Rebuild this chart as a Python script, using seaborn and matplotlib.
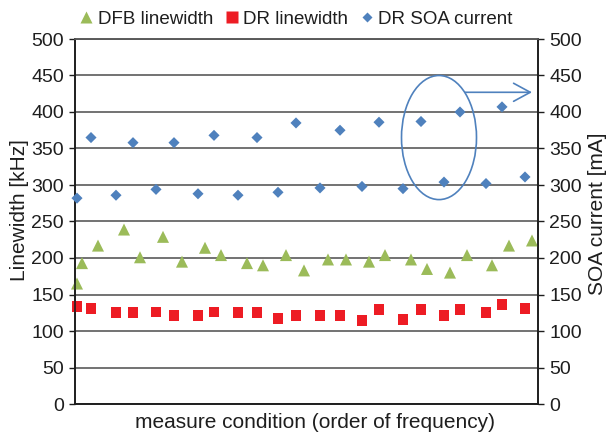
import matplotlib
matplotlib.use("Agg")
import matplotlib.pyplot as plt
import pandas as pd
import seaborn as sns
from matplotlib.patches import Ellipse
from matplotlib.lines import Line2D

# Position of each measurement along the frequency-ordered axis (arbitrary units)
dfb_pos = [2, 7, 23, 49, 65, 88, 107, 130, 146, 172, 188, 211, 229, 253,
           271, 294, 310, 336, 352, 375, 392, 417, 434, 457]
dfb_linewidth = [165, 193, 217, 239, 201, 229, 195, 214, 204, 193, 190, 204,
                 183, 198, 198, 195, 204, 198, 185, 180, 204, 190, 217, 224]

dr_pos = [2, 16, 41, 58, 81, 99, 123, 139, 163, 182, 203, 221, 245, 265,
          287, 304, 328, 346, 369, 385, 411, 427, 450]
dr_linewidth = [134, 131, 125, 125, 126, 121, 121, 126, 125, 125, 117, 121,
                121, 121, 114, 129, 116, 129, 121, 129, 125, 136, 131]
dr_soa_current = [282, 365, 286, 358, 294, 358, 288, 368, 286, 365, 290, 385,
                  296, 375, 298, 386, 295, 387, 304, 400, 302, 407, 311]

series_labels = ["DFB linewidth", "DR linewidth", "DR SOA current"]
x_label = "measure condition (order of frequency)"
left_label = "Linewidth [kHz]"
right_label = "SOA current [mA]"
y_ticks = list(range(0, 501, 50))

GREEN = "#9BBB59"
RED = "#ED1C24"
BLUE = "#4F81BD"
GRID = "#5a5a5a"
INK = "#1e1e1e"

sns.set_style("white")
plt.rcParams["font.family"] = ["Liberation Sans", "DejaVu Sans"]

dfb = pd.DataFrame({"pos": dfb_pos, "value": dfb_linewidth})
dr = pd.DataFrame({"pos": dr_pos, "linewidth": dr_linewidth,
                   "current": dr_soa_current})

fig = plt.figure(figsize=(6.07, 4.36), dpi=100)
ax = fig.add_axes([75 / 607, 1 - 404 / 436, 463 / 607, 365 / 436])
ax2 = ax.twinx()

sns.scatterplot(data=dfb, x="pos", y="value", marker="^", s=75, color=GREEN,
                edgecolor="none", ax=ax, clip_on=False, zorder=3, legend=False)
sns.scatterplot(data=dr, x="pos", y="linewidth", marker="s", s=62, color=RED,
                edgecolor="none", ax=ax, clip_on=False, zorder=3, legend=False)
sns.scatterplot(data=dr, x="pos", y="current", marker="D", s=32, color=BLUE,
                edgecolor="none", ax=ax2, clip_on=False, zorder=3, legend=False)

for a in (ax, ax2):
    a.set_xlim(0, 463)
    a.set_ylim(0, 500)
    a.set_yticks(y_ticks)
    a.set_xticks([])
    a.set_xlabel("")
    a.set_ylabel("")
    a.tick_params(axis="y", length=4, width=1, color=INK,
                  labelsize=14, pad=4, labelcolor=INK)
    for side in ("left", "right", "bottom"):
        a.spines[side].set_color(INK)
        a.spines[side].set_linewidth(1.2)
    a.spines["top"].set_color(GRID)
    a.spines["top"].set_linewidth(1.2)

ax.yaxis.grid(True, color=GRID, linewidth=1.2)
ax.set_axisbelow(True)
ax.tick_params(axis="y", left=True, right=False)
ax2.tick_params(axis="y", right=True, left=False)

ax.set_xlabel(x_label, fontsize=15, color=INK)
ax.xaxis.set_label_coords(0.518, -0.024)
ax.set_ylabel(left_label, fontsize=15, color=INK)
ax.yaxis.set_label_coords(-0.099, 0.53)
ax2.set_ylabel(right_label, fontsize=15, color=INK)
ax2.yaxis.set_label_coords(1.108, 0.52)

# Highlight of the upper current group with arrow toward the right axis
ax2.add_patch(Ellipse((364, 365), 75, 170, fill=False, edgecolor=BLUE,
                      linewidth=1.2, zorder=4))
ax2.annotate("", xy=(457, 427), xytext=(390, 427),
             arrowprops=dict(arrowstyle="->,head_length=1.2,head_width=0.65",
                             color=BLUE, lw=1.2, shrinkA=0, shrinkB=0,
                             mutation_scale=10))

handles = [
    Line2D([], [], linestyle="none", marker="^", markersize=8,
           markerfacecolor=GREEN, markeredgecolor="none"),
    Line2D([], [], linestyle="none", marker="s", markersize=8,
           markerfacecolor=RED, markeredgecolor="none"),
    Line2D([], [], linestyle="none", marker="D", markersize=5.5,
           markerfacecolor=BLUE, markeredgecolor="none"),
]
fig.legend(handles, series_labels, loc="center", bbox_to_anchor=(0.487, 0.956),
           ncol=3, frameon=False, fontsize=13.5, handlelength=0.8,
           handletextpad=0.2, columnspacing=0.6, borderpad=0,
           labelcolor=INK)

fig.savefig("out.png", dpi=100)
